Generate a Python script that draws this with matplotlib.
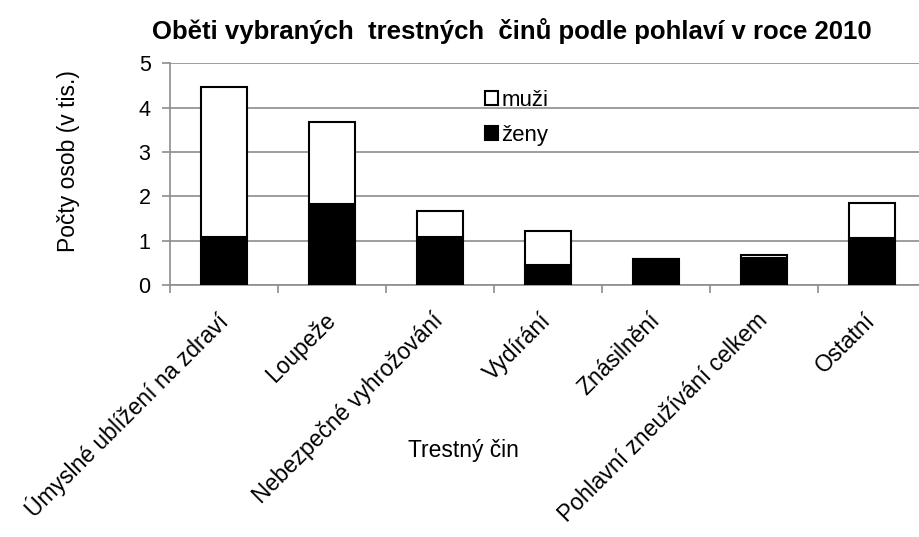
import matplotlib.pyplot as plt
import numpy as np

plt.rcParams["font.family"] = ["Liberation Sans", "DejaVu Sans"]

categories = ["Úmyslné ublížení na zdraví", "Loupeže", "Nebezpečné vyhrožování",
              "Vydírání", "Znásilnění", "Pohlavní zneužívání celkem", "Ostatní"]
zeny = [1.08, 1.82, 1.08, 0.45, 0.60, 0.61, 1.06]
muzi = [3.38, 1.85, 0.59, 0.77, 0.0, 0.07, 0.79]

fig = plt.figure(figsize=(9.19, 5.37), dpi=100)
# plot area runs slightly past the right edge of the picture, as in the original
ax = fig.add_axes([0.185, 0.469, 0.8226, 0.4134])

x = np.arange(len(categories))
ax.bar(x, zeny, width=0.42, color="black", edgecolor="black", linewidth=1.5, label="ženy", zorder=3)
ax.bar(x, muzi, width=0.42, bottom=zeny, color="white", edgecolor="black", linewidth=1.5,
       label="muži", zorder=3)

ax.set_xlim(-0.5, len(categories) - 0.5)
ax.set_ylim(0, 5)
ax.set_yticks(range(6))
ax.yaxis.grid(True, color="#8c8c8c", linewidth=1.2, zorder=0)
for s in ["top", "right"]:
    ax.spines[s].set_visible(False)
ax.spines["left"].set_color("#8c8c8c")
ax.spines["bottom"].set_color("#8c8c8c")
ax.spines["left"].set_linewidth(1.2)
ax.spines["bottom"].set_linewidth(1.2)

ax.set_xticks(np.arange(len(categories) + 1) - 0.5)
ax.set_xticklabels([])
ax.set_xticks(x, minor=True)
ax.set_xticklabels(categories, minor=True, rotation=45, ha="right", va="center",
                   rotation_mode="anchor", fontsize=16.5)
ax.tick_params(axis="x", which="minor", length=0, pad=23)
ax.tick_params(axis="x", which="major", length=6, color="#8c8c8c", width=1.2)
ax.tick_params(axis="y", length=6, color="#8c8c8c", width=1.2, labelsize=15.5, pad=8)

fig.text(0.074, 0.70, "Počty osob (v tis.)", fontsize=16.5, rotation=90,
         ha="center", va="center")
fig.text(0.504, 0.162, "Trestný čin", fontsize=16.5, ha="center", va="center")
fig.text(0.557, 0.943, "Oběti vybraných  trestných  činů podle pohlaví v roce 2010",
         fontsize=18.5, fontweight="bold", ha="center", va="center")

handles, labels = ax.get_legend_handles_labels()
ax.legend(handles[::-1], labels[::-1], loc="upper left", bbox_to_anchor=(0.39, 0.97),
          frameon=False, fontsize=16, handlelength=0.6, handleheight=0.6,
          handletextpad=0.15, labelspacing=0.65)

fig.savefig("out.png", dpi=100)
